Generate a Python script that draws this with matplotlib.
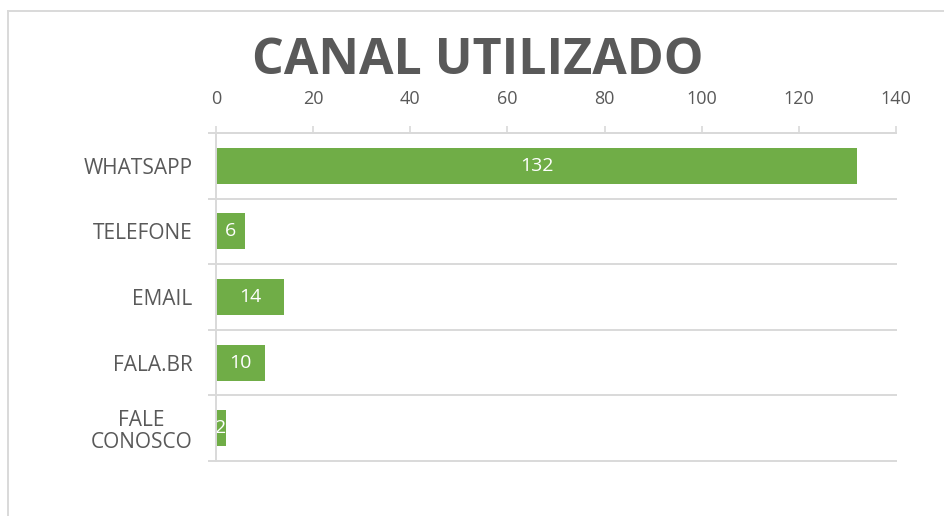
import matplotlib
matplotlib.use("Agg")
import matplotlib.pyplot as plt
from matplotlib.lines import Line2D

categories = ["WHATSAPP", "TELEFONE", "EMAIL", "FALA.BR", "FALE\nCONOSCO"]
values = [132, 6, 14, 10, 2]
xticks = [0, 20, 40, 60, 80, 100, 120, 140]
title = "CANAL UTILIZADO"

GREEN = "#70AD47"
GRID = "#D9D9D9"
TEXT = "#595959"

plt.rcParams['font.family'] = ['Open Sans', 'DejaVu Sans']

fig = plt.figure(figsize=(9.44, 5.16), dpi=100)
ax = fig.add_axes([0.2288, 0.1066, 0.7203, 0.6357])

ypos = list(range(len(categories)))
bars = ax.barh(ypos, values, height=0.55, color=GREEN, zorder=3)
ax.set_ylim(len(categories) - 0.5, -0.5)
ax.set_xlim(0, 140)

for b, v in zip(bars, values):
    ax.text(v / 2, b.get_y() + b.get_height() / 2, str(v), ha='center', va='center',
            color='white', fontsize=14, zorder=4)

# category boundary lines
for k in range(len(categories) + 1):
    ax.axhline(k - 0.5, xmin=-0.0105, xmax=1, color=GRID, lw=1.4, clip_on=False, zorder=1)

ax.xaxis.tick_top()
ax.set_xticks(xticks)
ax.set_xticklabels([str(t) for t in xticks])
ax.tick_params(axis='x', direction='out', length=5, width=1.2, color=GRID,
               labelsize=13, labelcolor=TEXT, pad=13)
ax.set_yticks(ypos)
ax.set_yticklabels(categories)
ax.tick_params(axis='y', length=0, labelsize=15, labelcolor=TEXT, pad=17)
for lab in ax.get_yticklabels():
    lab.set_multialignment('center')
    lab.set_linespacing(1.1)

for s in ['right', 'bottom']:
    ax.spines[s].set_visible(False)
ax.spines['top'].set_color(GRID)
ax.spines['top'].set_linewidth(1.4)
ax.spines['left'].set_color(GRID)
ax.spines['left'].set_linewidth(1.4)
ax.spines['left'].set_zorder(5)

fig.text(0.506, 0.882, title, ha='center', va='center', fontsize=36,
         fontweight='bold', color=TEXT)

# chart frame border
fig.add_artist(Line2D([8 / 944, 8 / 944], [0, 1 - 11 / 516], color=GRID, lw=1.4))
fig.add_artist(Line2D([8 / 944, 1], [1 - 11 / 516, 1 - 11 / 516], color=GRID, lw=1.4))

fig.savefig("out.png", dpi=100, facecolor='white')
